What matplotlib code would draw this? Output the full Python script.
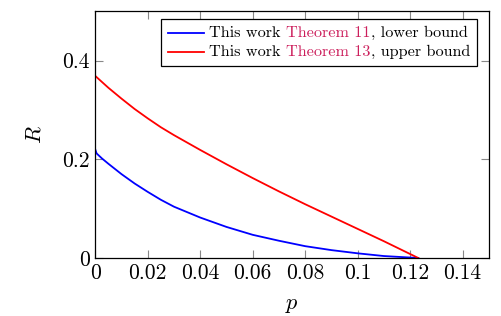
import matplotlib
matplotlib.use("Agg")
import matplotlib.pyplot as plt
from matplotlib.ticker import FixedLocator, FuncFormatter
from matplotlib.offsetbox import TextArea, HPacker, VPacker, DrawingArea, AnchoredOffsetbox
from matplotlib.lines import Line2D

plt.rcParams['font.family'] = 'serif'
plt.rcParams['font.serif'] = ['cmr10', 'DejaVu Serif']
plt.rcParams['mathtext.fontset'] = 'cm'
plt.rcParams['axes.formatter.use_mathtext'] = True

# values
p_lower = [0, 0.0005, 0.0025, 0.005, 0.01, 0.015, 0.02, 0.025, 0.03, 0.04, 0.05, 0.06, 0.07, 0.08, 0.09, 0.10, 0.11, 0.1231]
r_lower = [0.220, 0.212, 0.202, 0.191, 0.170, 0.151, 0.134, 0.118, 0.104, 0.082, 0.063, 0.047, 0.035, 0.024, 0.016, 0.0095, 0.004, 0.0]

p_upper = [0, 0.005, 0.01, 0.015, 0.02, 0.025, 0.03, 0.04, 0.05, 0.06, 0.07, 0.08, 0.09, 0.10, 0.11, 0.1231]
r_upper = [0.369, 0.345, 0.323, 0.302, 0.283, 0.265, 0.249, 0.219, 0.190, 0.162, 0.135, 0.109, 0.084, 0.059, 0.034, 0.0]

x_ticks = [0, 0.02, 0.04, 0.06, 0.08, 0.1, 0.12, 0.14]
y_ticks = [0, 0.2, 0.4]

theorem_color = '#CC1F5C'

fig = plt.figure(figsize=(5.02, 3.16), dpi=100)
ax = fig.add_axes([0.1898, 0.1835, 0.9739 - 0.1898, 0.9642 - 0.1835])

ax.plot(p_lower, r_lower, color='#0000FF', lw=1.3)
ax.plot(p_upper, r_upper, color='#FF0000', lw=1.3)

ax.set_xlim(0, 0.15)
ax.set_ylim(0, 0.5)
ax.xaxis.set_major_locator(FixedLocator(x_ticks))
ax.yaxis.set_major_locator(FixedLocator(y_ticks))
fmt = FuncFormatter(lambda v, pos: '%g' % round(v, 4))
ax.xaxis.set_major_formatter(fmt)
ax.yaxis.set_major_formatter(fmt)
ax.tick_params(direction='in', length=5.5, width=0.8, color='#888888',
               top=True, right=True, labelsize=15.5, pad=4)
for s in ax.spines.values():
    s.set_linewidth(0.9)

ax.set_xlabel('$p$', fontsize=16, labelpad=9)
ax.set_ylabel('$R$', fontsize=16, labelpad=13)

# legend with coloured theorem references
rows = []
for col, num, kind in [('#0000FF', '11', 'lower'), ('#FF0000', '13', 'upper')]:
    da = DrawingArea(26, 8, 0, 0)
    da.add_artist(Line2D([0, 26], [4, 4], color=col, lw=1.3))
    t1 = TextArea('This work ', textprops=dict(fontsize=11.7, color='black'))
    t2 = TextArea('Theorem ' + num, textprops=dict(fontsize=11.7, color=theorem_color))
    t3 = TextArea(', ' + kind + ' bound', textprops=dict(fontsize=11.7, color='black'))
    label = HPacker(children=[t1, t2, t3], align='baseline', pad=0, sep=0)
    rows.append(HPacker(children=[da, label], align='center', pad=0, sep=3.6))
box = VPacker(children=rows, align='left', pad=0, sep=3.5)
leg = AnchoredOffsetbox(loc='upper right', child=box, pad=0.5, borderpad=0,
                        frameon=True, bbox_to_anchor=(0.97, 0.97),
                        bbox_transform=ax.transAxes)
leg.patch.set_edgecolor('black')
leg.patch.set_linewidth(0.9)
leg.patch.set_boxstyle('square', pad=0)
ax.add_artist(leg)

fig.savefig('out.png', dpi=100)
